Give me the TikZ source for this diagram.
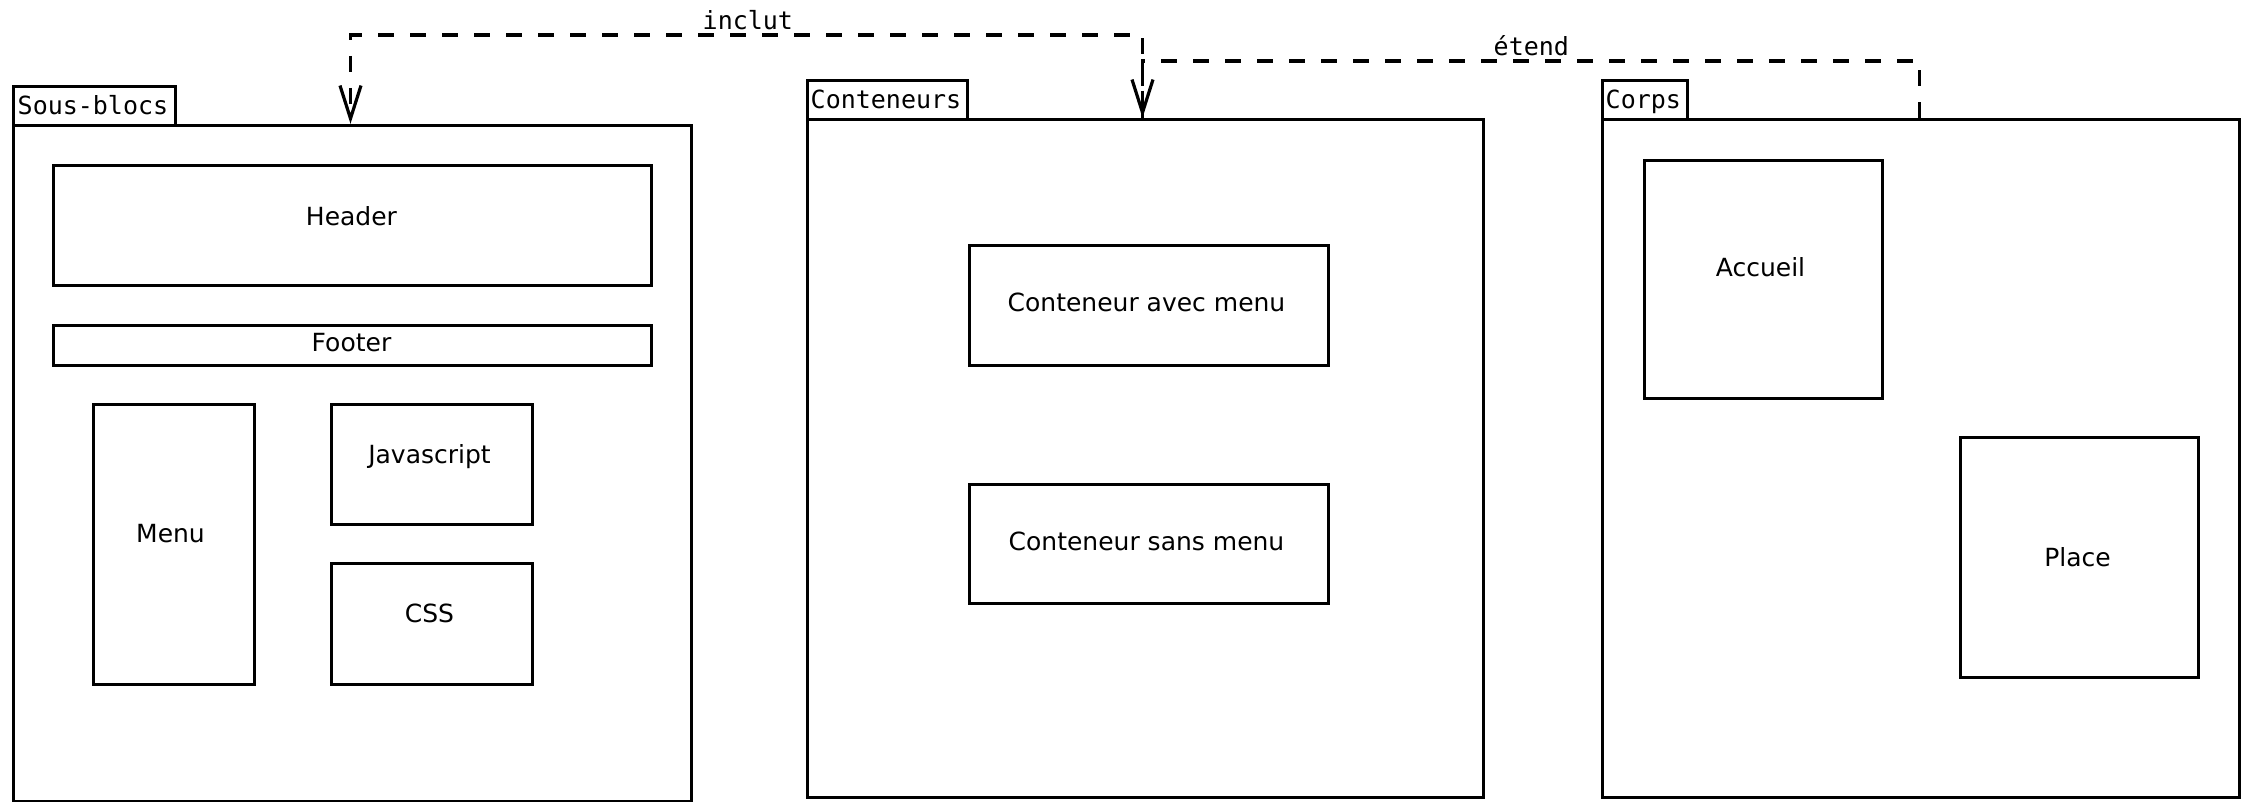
\documentclass[tikz,border=0pt]{standalone}
\usepackage{fontspec}
\setmainfont{DejaVu Sans}
\setmonofont{DejaVu Sans Mono}
\usetikzlibrary{arrows.meta}

\begin{document}
\begin{tikzpicture}[x=1pt,y=-1pt,
  box/.style={draw, line width=3.2pt, inner sep=0pt, anchor=north west, fill=white},
  txt/.style={font=\fontsize{25}{30}\selectfont, inner sep=0pt, anchor=base},
  tabtxt/.style={font=\ttfamily\fontsize{25}{30}\selectfont, inner sep=0pt, anchor=base west},
  dep/.style={line width=3.5pt, dash pattern=on 16pt off 16pt,
    -{Straight Barb[length=33pt,width=21pt,line width=3.2pt]}}]
\useasboundingbox[fill=white] (0,0) rectangle (2247,801);

\begin{scope}[shift={(-1.5,-1.2)}]
% --- package "Sous-blocs" ---
\node[box, minimum width=162pt, minimum height=39pt] (sousTab) at (13,86) {};
\node[box, minimum width=678pt, minimum height=676pt] (sous) at (13,125) {};
\node[tabtxt] (sousLbl) at (19,116) {Sous-blocs};
\node[box, minimum width=598pt, minimum height=120pt] (header) at (53,165) {};
\node[txt] (headerLbl) at (353,227) {Header};
\node[box, minimum width=598pt, minimum height=40pt] (footer) at (53,325) {};
\node[txt] (footerLbl) at (353,353) {Footer};
\node[box, minimum width=161pt, minimum height=280pt] (menu) at (93,404) {};
\node[txt] (menuLbl) at (172,544) {Menu};
\node[box, minimum width=201pt, minimum height=120pt] (js) at (331,404) {};
\node[txt] (jsLbl) at (431,465) {Javascript};
\node[box, minimum width=201pt, minimum height=121pt] (css) at (331,563) {};
\node[txt] (cssLbl) at (431,624) {CSS};

% --- package "Conteneurs" ---
\node[box, minimum width=160pt, minimum height=39pt] (contTab) at (807,80) {};
\node[box, minimum width=676pt, minimum height=678pt] (cont) at (807,119) {};
\node[tabtxt] (contLbl) at (812,110) {Conteneurs};
\node[box, minimum width=359pt, minimum height=120pt] (avec) at (969,245) {};
\node[txt] (avecLbl) at (1148,313) {Conteneur avec menu};
\node[box, minimum width=359pt, minimum height=119pt] (sans) at (969,484) {};
\node[txt] (sansLbl) at (1148,552) {Conteneur sans menu};

% --- package "Corps" ---
\node[box, minimum width=85pt, minimum height=39pt] (corpsTab) at (1602,80) {};
\node[box, minimum width=637pt, minimum height=678pt] (corps) at (1602,119) {};
\node[tabtxt] (corpsLbl) at (1607,110) {Corps};
\node[box, minimum width=238pt, minimum height=238pt] (accueil) at (1644,160) {};
\node[txt] (accueilLbl) at (1762,278) {Accueil};
\node[box, minimum width=238pt, minimum height=240pt] (place) at (1960,437) {};
\node[txt] (placeLbl) at (2079,568) {Place};

% --- routing columns and rows of the dependencies ---
\coordinate (incX) at (1144,0);
\coordinate (sbX) at (352,0);
\coordinate (etX) at (1921,0);
\coordinate (incY) at (0,36);
\coordinate (etY) at (0,62);

% Conteneurs includes Sous-blocs
\draw[dep] (incX |- cont.north) |- (sbX |- incY) -- (sbX |- sous.north);
\node[tabtxt] (inclutLbl) at (704,31) {inclut};

% Corps extends Conteneurs
\draw[dep] (etX |- corps.north) |- (incX |- etY) -- (incX |- cont.north);
\node[tabtxt] (etendLbl) at (1495,57) {étend};
\end{scope}
\end{tikzpicture}
\end{document}
